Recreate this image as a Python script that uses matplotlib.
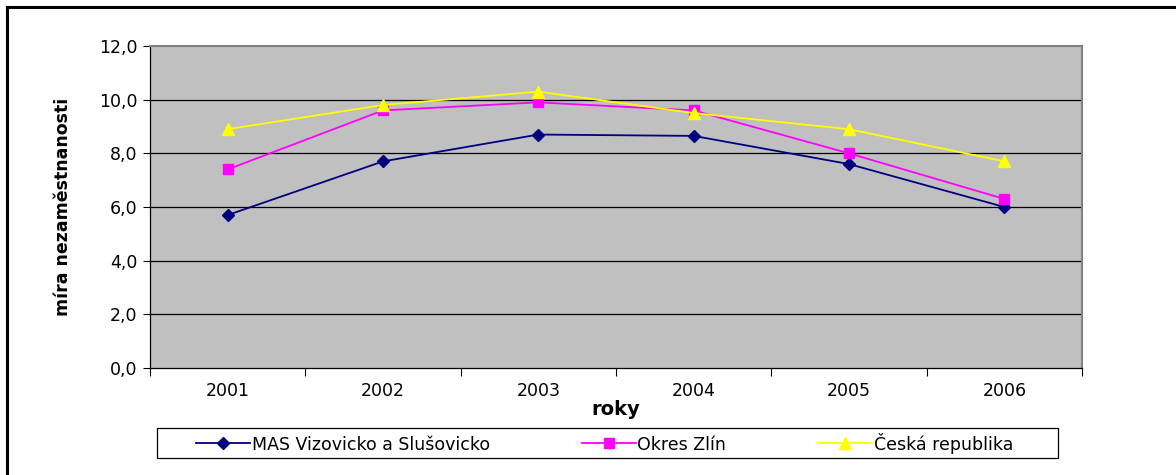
import matplotlib
matplotlib.use("Agg")
import matplotlib.pyplot as plt
from matplotlib.lines import Line2D
from matplotlib.patches import Rectangle

years = ["2001", "2002", "2003", "2004", "2005", "2006"]
mas = [5.7, 7.7, 8.7, 8.65, 7.6, 6.0]
zlin = [7.4, 9.6, 9.9, 9.6, 8.0, 6.3]
cr = [8.9, 9.8, 10.3, 9.5, 8.9, 7.7]
series_names = ["MAS Vizovicko a Slušovicko", "Okres Zlín", "Česká republika"]
yticks = [0, 2, 4, 6, 8, 10, 12]
ytick_labels = ["0,0", "2,0", "4,0", "6,0", "8,0", "10,0", "12,0"]

plt.rcParams['font.family'] = ['DejaVu Sans']

W, H = 1176, 475
fig = plt.figure(figsize=(W/100, H/100), dpi=100)
ax = fig.add_axes([150/W, 1-368/H, (1082-150)/W, (368-46)/H])
ax.set_facecolor("#C0C0C0")

x = list(range(len(years)))
ax.plot(x, mas, color="#000080", marker="D", markersize=6.5, lw=1.3, label=series_names[0], zorder=3)
ax.plot(x, zlin, color="#FF00FF", marker="s", markersize=7, lw=1.3, label=series_names[1], zorder=4)
ax.plot(x, cr, color="#FFFF00", marker="^", markersize=9, lw=1.3, label=series_names[2], zorder=5)

ax.set_ylim(0, 12)
ax.set_xlim(-0.5, len(years) - 0.5)
ax.set_yticks(yticks)
ax.set_yticklabels(ytick_labels, fontsize=12.5)
ax.set_xticks([i - 0.5 for i in range(len(years) + 1)])
ax.set_xticklabels([])
ax.set_xticks(x, minor=True)
ax.set_xticklabels(years, minor=True, fontsize=12.5)
ax.tick_params(axis='x', which='minor', length=0, pad=10)
ax.tick_params(axis='x', which='major', length=6, width=0.8, direction='out', color='black')
ax.tick_params(axis='y', length=5, width=0.8, direction='out', pad=4)

for v in yticks[1:-1]:
    ax.axhline(v, color="black", lw=0.9, zorder=1)

for s in ["top", "right"]:
    ax.spines[s].set_color("#808080")
    ax.spines[s].set_linewidth(1.5)
ax.spines["left"].set_color("black")
ax.spines["bottom"].set_color("black")
ax.spines["left"].set_linewidth(0.9)
ax.spines["bottom"].set_linewidth(0.9)

ax.set_ylabel("míra nezaměstnanosti", fontsize=12.5, fontweight="bold")
ax.yaxis.set_label_coords(-(150-72)/932, 0.5)
ax.set_xlabel("roky", fontsize=14, fontweight="bold", labelpad=0)

leg = fig.legend(loc="center left", bbox_to_anchor=(196/W, 1-443/H),
                 ncol=3, fontsize=12.5, frameon=False, borderaxespad=0, borderpad=0,
                 handlelength=3.1, handletextpad=0.1, columnspacing=5.3)
fig.add_artist(Rectangle((157/W, 1-458/H), (1058-157)/W, 30/H, transform=fig.transFigure,
                         facecolor="none", edgecolor="black", lw=0.9))

# outer chart border (top and left visible)
fig.add_artist(Line2D([7/W, 1.0], [1-7/H, 1-7/H], color="black", lw=2.2, transform=fig.transFigure))
fig.add_artist(Line2D([7/W, 7/W], [0, 1-7/H], color="black", lw=2.2, transform=fig.transFigure))

fig.savefig("out.png", dpi=100, facecolor="white")
